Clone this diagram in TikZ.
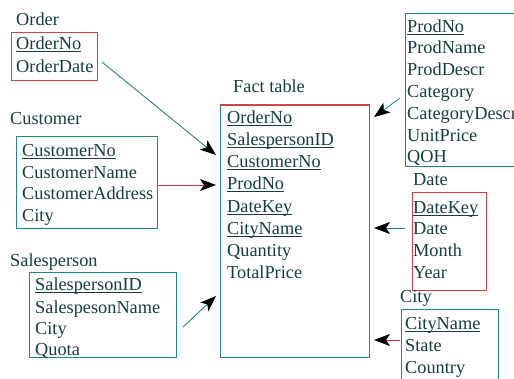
\documentclass[tikz,border=0pt]{standalone}
\usepackage{fontspec}
\setmainfont{Liberation Serif}
\usetikzlibrary{arrows.meta}
\definecolor{txt}{RGB}{22,62,62}
\definecolor{boxred}{RGB}{205,70,70}
\definecolor{boxteal}{RGB}{30,135,135}
\definecolor{lineteal}{RGB}{40,130,130}
\definecolor{linered}{RGB}{210,60,60}
\newcommand\ukey[1]{\setbox0\hbox{#1}\rlap{\rule[-3pt]{\wd0}{1.4pt}}\box0}
\tikzset{
  attr/.style={anchor=base west, inner sep=0pt, text=txt, font=\fontsize{18.3}{22}\selectfont},
  tbox/.style={draw=#1, line width=1.1pt, anchor=north west, inner sep=0pt},
  conn/.style={draw=#1, line width=0.9pt, -{Stealth[length=16pt,width=12pt,inset=4pt,color=black]}},
}
\begin{document}
\begin{tikzpicture}[x=1pt,y=-1pt]
\useasboundingbox (0,0) rectangle (514,378);
\fill[white] (0,0) rectangle (514,378);

% Order
\node[attr] (orderlbl) at (16,25) {Order};
\node[tbox=boxred, minimum width=86pt, minimum height=48pt] (orderbox) at (11,32) {};
\node[attr] (o1) at (16,49) {\ukey{OrderNo}};
\node[attr] (o2) at (16,72) {OrderDate};

% Customer
\node[attr] (custlbl) at (10,124) {Customer};
\node[tbox=boxteal, minimum width=141pt, minimum height=92pt] (custbox) at (16,136) {};
\node[attr] (c1) at (22,156) {\ukey{CustomerNo}};
\node[attr] (c2) at (22,178) {CustomerName};
\node[attr] (c3) at (22,199) {CustomerAddress};
\node[attr] (c4) at (22,221) {City};

% Salesperson
\node[attr] (salelbl) at (10,266) {Salesperson};
\node[tbox=boxteal, minimum width=147pt, minimum height=85pt] (salebox) at (29,272) {};
\node[attr] (s1) at (35,290) {\ukey{SalespersonID}};
\node[attr] (s2) at (35,313) {SalespesonName};
\node[attr] (s3) at (35,334) {City};
\node[attr] (s4) at (35,355) {Quota};

% Fact table
\node[attr] (factlbl) at (233,92) {Fact table};
\node[tbox=boxteal, minimum width=149pt, minimum height=252pt] (factbox) at (220,105) {};
\draw[boxred, line width=1.1pt] (factbox.north west) -- (factbox.north east);
\node[attr] (f1) at (227,123) {\ukey{OrderNo}};
\node[attr] (f2) at (227,145) {\ukey{SalespersonID}};
\node[attr] (f3) at (227,167) {\ukey{CustomerNo}};
\node[attr] (f4) at (227,189) {\ukey{ProdNo}};
\node[attr] (f5) at (227,212) {\ukey{DateKey}};
\node[attr] (f6) at (227,234) {\ukey{CityName}};
\node[attr] (f7) at (227,256) {Quantity};
\node[attr] (f8) at (227,278) {TotalPrice};

% Product
\node[tbox=boxteal, minimum width=120pt, minimum height=153pt] (prodbox) at (405,13) {};
\node[attr] (p1) at (407,32) {\ukey{ProdNo}};
\node[attr] (p2) at (407,53.8) {ProdName};
\node[attr] (p3) at (407,75.6) {ProdDescr};
\node[attr] (p4) at (407,97.4) {Category};
\node[attr] (p5) at (407,119.2) {CategoryDescr};
\node[attr] (p6) at (407,141) {UnitPrice};
\node[attr] (p7) at (407,162.8) {QOH};

% Date
\node[attr] (datelbl) at (413,185) {Date};
\node[tbox=boxred, minimum width=74pt, minimum height=98pt] (datebox) at (412,192) {};
\node[attr] (d1) at (413,213) {\ukey{DateKey}};
\node[attr] (d2) at (413,234) {Date};
\node[attr] (d3) at (413,256) {Month};
\node[attr] (d4) at (413,278) {Year};

% City
\node[attr] (citylbl) at (400,302) {City};
\node[tbox=boxteal, minimum width=97pt, minimum height=80pt] (citybox) at (401,309) {};
\node[attr] (y1) at (405,329) {\ukey{CityName}};
\node[attr] (y2) at (405,351) {State};
\node[attr] (y3) at (405,373) {Country};

% connector end points
\coordinate (a1s) at (102,62);   \coordinate (a1e) at (216,155);
\coordinate (a2s) at (157,185);  \coordinate (a2e) at (216,185);
\coordinate (a3s) at (183,327);  \coordinate (a3e) at (216,296);
\coordinate (a4s) at (400,98);   \coordinate (a4e) at (374,117);
\coordinate (a5s) at (405,228);  \coordinate (a5e) at (374,228);
\coordinate (a6s) at (400,340);  \coordinate (a6e) at (374,340);

\draw[conn=lineteal] (a1s) -- (a1e);
\draw[conn=linered]  (a2s) -- (a2e);
\draw[conn=lineteal] (a3s) -- (a3e);
\draw[conn=lineteal] (a4s) -- (a4e);
\draw[conn=lineteal] (a5s) -- (a5e);
\draw[conn=linered]  (a6s) -- (a6e);
\end{tikzpicture}
\end{document}
